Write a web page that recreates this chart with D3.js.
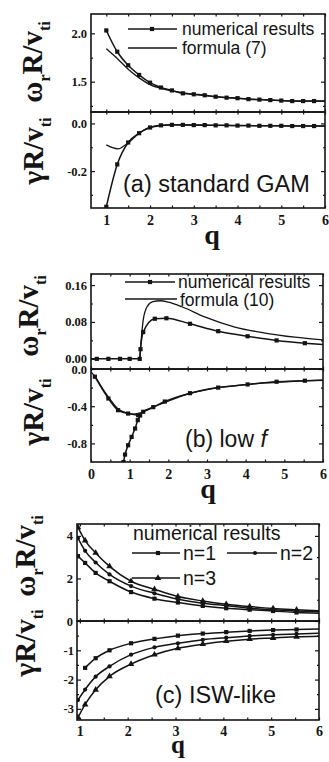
<!DOCTYPE html>
<html>
<head>
<meta charset="utf-8">
<script src="https://cdn.jsdelivr.net/npm/d3@7"></script>
<style>
  body { margin: 0; background: #fff; }
  svg { display: block; }
</style>
</head>
<body>
<svg id="fig" width="329" height="762"></svg>
<script>
// ---------- (a) standard GAM ----------
const qNumA = [1.0, 1.25, 1.5, 1.75, 2.0, 2.25, 2.5, 2.75, 3.0, 3.25, 3.5, 3.75, 4.0, 4.25, 4.5, 4.75, 5.0, 5.25, 5.5, 5.75, 6.0];
const omegaNumA = [2.03, 1.81, 1.67, 1.57, 1.49, 1.44, 1.41, 1.38, 1.37, 1.36, 1.345, 1.335, 1.33, 1.32, 1.315, 1.31, 1.305, 1.30, 1.30, 1.30, 1.30];
const gammaNumA = [-0.35, -0.172, -0.080, -0.041, -0.017, -0.008, -0.006, -0.006, -0.007, -0.007, -0.008, -0.008, -0.009, -0.009, -0.010, -0.010, -0.010, -0.011, -0.011, -0.011, -0.011];
const qFormA = [1.0, 1.25, 1.5, 1.75, 2.0, 2.25, 2.5, 3.0, 3.5, 4.0, 4.5, 5.0, 5.5, 6.0];
const omegaFormA = [1.84, 1.74, 1.63, 1.54, 1.47, 1.43, 1.405, 1.37, 1.345, 1.33, 1.315, 1.305, 1.30, 1.30];
const qFormAg = [1.0, 1.14, 1.27, 1.4, 1.5, 1.75, 2.0, 2.5, 3.0, 4.0, 5.0, 6.0];
const gammaFormA = [-0.09, -0.102, -0.107, -0.095, -0.082, -0.041, -0.017, -0.006, -0.007, -0.009, -0.010, -0.011];

// ---------- (b) low f ----------
const qNumB = [0, 0.15, 0.45, 0.75, 1.0, 1.26, 1.28, 1.35, 1.65, 1.95, 2.56, 3.29, 4.05, 4.8, 5.53, 6.0];
const omegaNumB = [0, 0, 0, 0, 0, 0, 0.021, 0.058, 0.087, 0.088, 0.076, 0.060, 0.049, 0.040, 0.034, 0.031];
const qFormB = [1.26, 1.28, 1.35, 1.45, 1.6, 1.8, 2.0, 2.35, 2.94, 3.72, 4.5, 5.27, 6.0];
const omegaFormB = [0, 0.022, 0.084, 0.113, 0.124, 0.126, 0.123, 0.113, 0.091, 0.069, 0.056, 0.047, 0.041];
const qFormBg = [0, 0.1, 0.3, 0.5, 0.7, 0.9, 1.1, 1.3, 1.5, 1.7, 2.0, 2.5, 3.0, 3.5, 4.0, 4.5, 5.0, 5.5, 6.0];
const gammaFormB = [-0.03, -0.08, -0.21, -0.33, -0.43, -0.47, -0.485, -0.47, -0.435, -0.395, -0.345, -0.27, -0.222, -0.19, -0.168, -0.15, -0.137, -0.127, -0.12];
const qNumB1 = [0.1, 0.45, 0.7, 0.96, 1.22];
const gammaNumB1 = [-0.083, -0.317, -0.443, -0.479, -0.497];
const qNumB2 = [0.84, 0.88, 0.96, 1.05, 1.14, 1.21, 1.27, 1.35, 1.61, 1.91, 2.56, 3.29, 4.05, 4.8, 5.53, 6.0];
const gammaNumB2 = [-1.0, -0.92, -0.82, -0.73, -0.64, -0.55, -0.50, -0.46, -0.41, -0.35, -0.26, -0.20, -0.166, -0.137, -0.126, -0.12];

// ---------- (c) ISW-like ----------
const qC = [0.96, 1.11, 1.33, 1.62, 2.07, 2.56, 3.05, 3.57, 4.06, 4.55, 5.04, 5.53, 6.0];
const omegaN1 = [3.05, 2.73, 2.26, 1.87, 1.36, 1.05, 0.87, 0.71, 0.60, 0.53, 0.47, 0.40, 0.37];
const omegaN2 = [3.9, 3.3, 2.75, 2.19, 1.64, 1.30, 1.02, 0.84, 0.72, 0.60, 0.53, 0.47, 0.43];
const omegaN3 = [4.4, 3.78, 3.2, 2.57, 1.87, 1.49, 1.15, 0.94, 0.79, 0.68, 0.59, 0.53, 0.48];
const gammaN1 = [null, -1.60, -1.27, -1.0, -0.76, -0.61, -0.50, -0.43, -0.38, -0.34, -0.31, -0.29, -0.27];
const gammaN2 = [-2.7, -2.34, -1.9, -1.55, -1.15, -0.90, -0.76, -0.64, -0.57, -0.51, -0.47, -0.44, -0.42];
const gammaN3 = [-3.3, -2.85, -2.35, -1.89, -1.47, -1.15, -0.93, -0.79, -0.69, -0.62, -0.58, -0.54, -0.52];

// ---------- tick labels ----------
const xTicksA = [1, 2, 3, 4, 5, 6];
const xTicksB = [0, 1, 2, 3, 4, 5, 6];
const xTicksC = [1, 2, 3, 4, 5, 6];
const yTicksAw = [1.5, 2.0], yLabelsAw = ["1.5", "2.0"];
const yTicksAg = [-0.2, 0.0], yLabelsAg = ["-0.2", "0.0"];
const yTicksBw = [0, 0.08, 0.16], yLabelsBw = ["0.00", "0.08", "0.16"];
const yTicksBg = [-0.8, -0.4, 0.0], yLabelsBg = ["-0.8", "-0.4", "0.0"];
const yTicksCw = [0, 2, 4], yLabelsCw = ["0", "2", "4"];
const yTicksCg = [-3, -2, -1], yLabelsCg = ["-3", "-2", "-1"];

const INK = "#141414";
const serif = "'Liberation Serif','DejaVu Serif',serif";
const sans = "'Liberation Sans',Arial,sans-serif";
const svg = d3.select("#fig");
svg.append("rect").attr("width", 329).attr("height", 762).attr("fill", "#fff");
let clipN = 0;

function makeSub(L, R, T, B, xDom, yDom) {
  const x = d3.scaleLinear().domain(xDom).range([L, R]);
  const y = d3.scaleLinear().domain(yDom).range([B, T]);
  const id = "clip" + (clipN++);
  svg.append("clipPath").attr("id", id)
    .append("rect").attr("x", L).attr("y", T).attr("width", R - L).attr("height", B - T);
  return { x, y, L, R, T, B, xDom, clip: id, g: svg.append("g") };
}

function halves(dom, step) {
  const out = [];
  for (let v = Math.ceil(dom[0] / step) * step; v <= dom[1] + 1e-9; v += step) out.push(+v.toFixed(4));
  return out;
}

function axes(s, o) {
  const mk = (gen, pos, vals, len, labels, pad, fs) => {
    const a = gen.tickValues(vals).tickSizeInner(-len).tickSizeOuter(0).tickPadding(pad || 3)
      .tickFormat(labels ? (d, i) => labels[i] : () => "");
    const sel = s.g.append("g").attr("transform", pos).call(a);
    sel.select(".domain").remove();
    sel.selectAll("line").attr("stroke", INK).attr("stroke-width", 1.2);
    sel.attr("font-family", serif).attr("font-size", fs || 12).attr("font-weight", "bold");
    sel.selectAll("text").attr("fill", INK);
    return sel;
  };
  const minorX = halves(s.xDom, 0.5), minorY = o.yMinor;
  mk(d3.axisLeft(s.y), `translate(${s.L},0)`, o.yMajor, 4, o.yLabels, o.yPad || 4, 12.5);
  mk(d3.axisLeft(s.y), `translate(${s.L},0)`, minorY, 2);
  mk(d3.axisRight(s.y), `translate(${s.R},0)`, o.yMajor, 4);
  mk(d3.axisRight(s.y), `translate(${s.R},0)`, minorY, 2);
  mk(d3.axisTop(s.x), `translate(0,${s.T})`, minorX, 2.5);
  mk(d3.axisBottom(s.x), `translate(0,${s.B})`, minorX, 2.5,
    o.xLabels ? minorX.map(v => (Number.isInteger(v) && o.xMajor.includes(v)) ? String(v) : "") : null,
    o.xPad || 7, 14);
  svg.append("rect").attr("x", s.L).attr("y", s.T).attr("width", s.R - s.L).attr("height", s.B - s.T)
    .attr("fill", "none").attr("stroke", INK).attr("stroke-width", 1.6);
}

function markerPath(shape, size) {
  if (shape === "circle") return d3.symbol(d3.symbolCircle, size * size * 0.8)();
  if (shape === "triangle") return d3.symbol(d3.symbolTriangle, size * size * 0.75)();
  return d3.symbol(d3.symbolSquare, size * size)();
}

function series(s, qs, vs, o) {
  const pts = qs.map((q, i) => [q, vs[i]]).filter(p => p[1] !== null);
  const line = d3.line().x(d => s.x(d[0])).y(d => s.y(d[1])).curve(d3.curveMonotoneX);
  const g = s.g.append("g").attr("clip-path", `url(#${s.clip})`);
  g.append("path").attr("d", line(pts)).attr("fill", "none")
    .attr("stroke", INK).attr("stroke-width", o.width || 1.5);
  if (o.marker) {
    g.selectAll(null).data(pts.filter(p => p[0] > s.xDom[0] && p[0] < s.xDom[1])).join("path")
      .attr("d", markerPath(o.marker, o.size || 4.2))
      .attr("transform", d => `translate(${s.x(d[0])},${s.y(d[1])})`)
      .attr("fill", INK);
  }
}

function yLabel(cx, cy, parts, fs) {
  const t = svg.append("text").attr("transform", `translate(${cx},${cy}) rotate(-90)`)
    .attr("text-anchor", "middle").attr("font-family", serif).attr("font-weight", "bold")
    .attr("font-size", fs).attr("fill", INK);
  let shifted = false;
  parts.forEach(p => {
    const sp = t.append("tspan").text(p.t);
    if (p.sub) { sp.attr("font-size", fs * 0.55).attr("dy", shifted ? 0 : fs * 0.28); shifted = true; }
    else if (shifted) { sp.attr("dy", -fs * 0.28); shifted = false; }
  });
}

function text(x, y, str, fs, fam, extra) {
  const t = svg.append("text").attr("x", x).attr("y", y).attr("font-family", fam)
    .attr("font-size", fs).attr("fill", INK).text(str);
  if (extra) extra(t);
  return t;
}

function legendLine(x0, x1, y, marker, mx, size) {
  svg.append("line").attr("x1", x0).attr("x2", x1).attr("y1", y).attr("y2", y)
    .attr("stroke", INK).attr("stroke-width", 1.5);
  if (marker) svg.append("path").attr("d", markerPath(marker, size || 4.2))
    .attr("transform", `translate(${mx},${y})`).attr("fill", INK);
}

const omegaParts = [{ t: "ω" }, { t: "r", sub: true }, { t: "R/v" }, { t: "ti", sub: true }];
const gammaParts = [{ t: "γR/v" }, { t: "ti", sub: true }];

// ===== panel (a) =====
{
  const xDom = [0.65, 6];
  const top = makeSub(91, 325, 14, 112, xDom, [1.187, 2.2]);
  const bot = makeSub(91, 325, 112, 208, xDom, [-0.355, 0.048]);
  series(top, qFormA, omegaFormA, { width: 1.3 });
  series(top, qNumA, omegaNumA, { marker: "square" });
  series(bot, qFormAg, gammaFormA, { width: 1.3 });
  series(bot, qNumA, gammaNumA, { marker: "square" });
  axes(top, { yMajor: yTicksAw, yLabels: yLabelsAw, yMinor: [1.25, 1.75], xMajor: xTicksA });
  axes(bot, { yMajor: yTicksAg, yLabels: yLabelsAg, yMinor: [-0.3, -0.1], xMajor: xTicksA, xLabels: true, xPad: 7 });
  legendLine(128, 177, 29, "square", 152);
  legendLine(128, 177, 48, null);
  text(182, 35, "numerical results", 17.5, sans);
  text(182, 54, "formula (7)", 17.5, sans);
  text(123, 192, "(a) standard GAM", 23.5, sans);
  yLabel(42, 62, omegaParts, 29);
  yLabel(43, 151, gammaParts, 29);
  text(212, 244, "q", 28, serif, t => t.attr("font-weight", "bold").attr("text-anchor", "middle"));
}

// ===== panel (b) =====
{
  const xDom = [0, 6];
  const top = makeSub(91, 323, 274, 369, xDom, [-0.022, 0.184]);
  const bot = makeSub(91, 323, 369, 462, xDom, [-1.0, 0.0]);
  series(top, qFormB, omegaFormB, { width: 1.3 });
  series(top, qNumB, omegaNumB, { marker: "square" });
  series(bot, qFormBg, gammaFormB, { width: 1.3 });
  series(bot, qNumB1, gammaNumB1, { marker: "square" });
  series(bot, qNumB2, gammaNumB2, { marker: "square" });
  axes(top, { yMajor: yTicksBw, yLabels: yLabelsBw, yMinor: [0.04, 0.12], xMajor: xTicksB });
  axes(bot, { yMajor: yTicksBg, yLabels: yLabelsBg, yMinor: [-0.6, -0.2], xMajor: xTicksB, xLabels: true, xPad: 7 });
  legendLine(125, 175, 282, "square", 150);
  legendLine(125, 177, 299, null);
  text(178, 288, "numerical results", 17.5, sans);
  text(180, 306, "formula (10)", 17.5, sans);
  text(185, 447, "(b) low ", 23, sans).append("tspan").attr("font-style", "italic").text("f");
  yLabel(38, 316, omegaParts, 29);
  yLabel(43, 412, gammaParts, 29);
  text(208, 498, "q", 28, serif, t => t.attr("font-weight", "bold").attr("text-anchor", "middle"));
}

// ===== panel (c) =====
{
  const xDom = [0.94, 6];
  const top = makeSub(77, 319, 524, 621, xDom, [0, 4.56]);
  const bot = makeSub(77, 319, 621, 720, xDom, [-3.38, 0]);
  series(top, qC, omegaN1, { marker: "square" });
  series(top, qC, omegaN2, { marker: "circle" });
  series(top, qC, omegaN3, { marker: "triangle", size: 5 });
  series(bot, qC, gammaN1, { marker: "square" });
  series(bot, qC, gammaN2, { marker: "circle" });
  series(bot, qC, gammaN3, { marker: "triangle", size: 5 });
  axes(top, { yMajor: yTicksCw, yLabels: yLabelsCw, yMinor: [1, 3], xMajor: xTicksC, yPad: 4 });
  axes(bot, { yMajor: yTicksCg, yLabels: yLabelsCg, yMinor: [-2.5, -1.5, -0.5], xMajor: xTicksC, xLabels: true, xPad: 6, yPad: 3 });
  text(133, 540, "numerical results", 19.5, sans);
  legendLine(132, 180, 553, "square", 158);
  text(183, 560, "n=1", 19.5, sans);
  legendLine(227, 277, 553, "circle", 255);
  text(280, 560, "n=2", 19.5, sans);
  legendLine(132, 180, 578, "triangle", 158, 5);
  text(183, 585, "n=3", 19.5, sans);
  text(155, 703, "(c) ISW-like", 23.5, sans);
  yLabel(35, 556, omegaParts, 29);
  yLabel(35, 643, gammaParts, 29);
  text(178, 753, "q", 25, serif, t => t.attr("font-weight", "bold").attr("text-anchor", "middle"));
}
</script>
</body>
</html>
